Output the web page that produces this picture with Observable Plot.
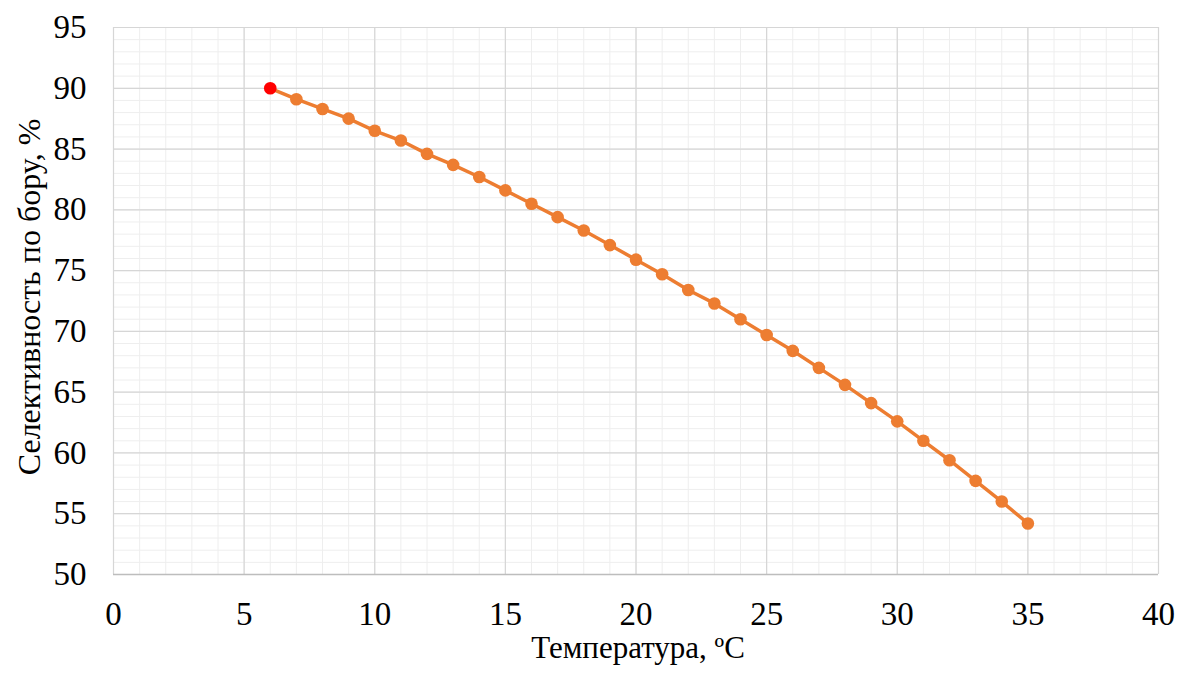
<!DOCTYPE html>
<html><head><meta charset="utf-8">
<script src="https://cdn.jsdelivr.net/npm/d3@7"></script>
<script src="https://cdn.jsdelivr.net/npm/@observablehq/plot@0.6"></script>
<style>
html,body{margin:0;padding:0;background:#fff;}
#chart{width:1181px;height:677px;}
</style></head>
<body><div id="chart"></div>
<script>
const temperature = [6,7,8,9,10,11,12,13,14,15,16,17,18,19,20,21,22,23,24,25,26,27,28,29,30,31,32,33,34,35];
const selectivity = [90.0,89.1,88.3,87.5,86.5,85.7,84.6,83.7,82.7,81.6,80.5,79.4,78.3,77.1,75.9,74.7,73.4,72.3,71.0,69.7,68.4,67.0,65.6,64.1,62.6,61.0,59.4,57.7,56.0,54.2];
const xTicks = [0,5,10,15,20,25,30,35,40];
const yTicks = [50,55,60,65,70,75,80,85,90,95];
const xMinor = d3.range(0,41,1);
const yMinor = d3.range(50,96,1);
const xLabel = "Температура, ºC";
const yLabel = "Селективность по бору, %";

const data = temperature.map((t,i)=>({t, s: selectivity[i]}));

const chart = Plot.plot({
  width: 1181, height: 677,
  marginLeft: 113, marginRight: 23, marginTop: 27, marginBottom: 103,
  style: {fontFamily: "'Liberation Serif', 'Times New Roman', serif", fontSize: "33px", color: "#000", background: "#fff"},
  x: {domain: [0,40], ticks: xTicks, label: null},
  y: {domain: [50,95], ticks: yTicks, label: null},
  marks: [
    Plot.ruleX(xMinor, {stroke: "#eeeeee", strokeWidth: 1}),
    Plot.ruleY(yMinor, {stroke: "#eeeeee", strokeWidth: 1}),
    Plot.ruleX(xTicks, {stroke: "#d6d6d6", strokeWidth: 1.2}),
    Plot.ruleY(yTicks, {stroke: "#d6d6d6", strokeWidth: 1.2}),
    Plot.ruleY([50], {stroke: "#bdbdbd", strokeWidth: 1.5}),
    Plot.axisX({ticks: xTicks, tickSize: 0, tickPadding: 27, fontSize: 33, label: null}),
    Plot.axisY({ticks: yTicks, tickSize: 0, tickPadding: 27, fontSize: 33, label: null}),
    Plot.line(data, {x: "t", y: "s", stroke: "#ED7D31", strokeWidth: 3.5}),
    Plot.dot(data, {x: "t", y: "s", r: 6.3, fill: d => d.t === 6 ? "#FF0000" : "#ED7D31", stroke: "none"}),
    Plot.text([xLabel], {frameAnchor: "bottom", textAnchor: "middle", dx: 2, dy: 83, fontSize: 31, text: d => d}),
    Plot.text([yLabel], {frameAnchor: "left", textAnchor: "middle", dx: -84, dy: -4, rotate: -90, fontSize: 32, text: d => d})
  ]
});
document.getElementById("chart").appendChild(chart);
</script>
</body></html>
